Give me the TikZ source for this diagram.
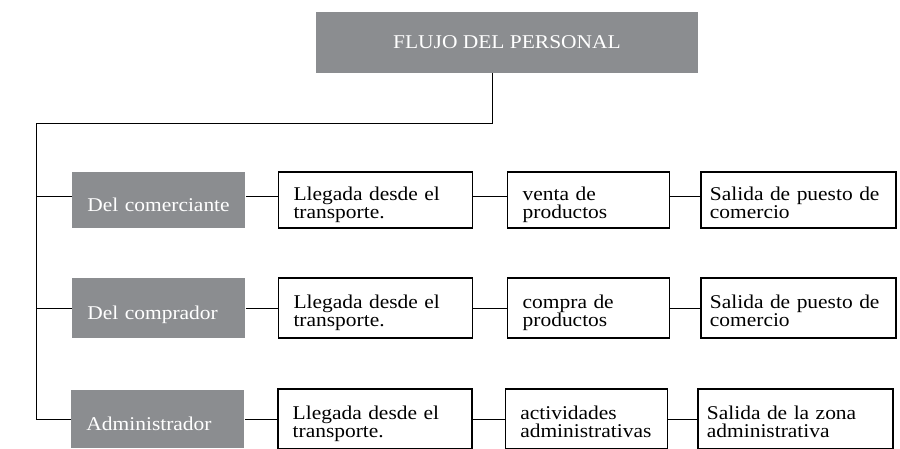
\documentclass[tikz,border=0pt]{standalone}
\usepackage{fontspec}
\setmainfont{Liberation Serif}[FakeStretch=1.1]
\usepackage{tikz}
\usetikzlibrary{positioning}
\definecolor{boxgray}{RGB}{139,141,144}

\begin{document}
\begin{tikzpicture}[x=1pt,y=-1pt,line width=0.9pt,font=\fontsize{19.5}{18}\selectfont]
\tikzstyle{cat}=[fill=boxgray, text=white, align=left, anchor=west, inner xsep=15pt, text width=143pt, text height=22pt, text depth=0pt]
\tikzstyle{stepbox}=[draw, line width=1.2pt, align=left, inner xsep=15pt, text height=22pt, text depth=22pt]
\useasboundingbox (0,0) rectangle (900,448);

\node[fill=boxgray, text=white, minimum width=382pt, minimum height=61pt] (flujo) at (507,42.5) {FLUJO DEL PERSONAL};

% del comerciante
\node[cat, minimum height=56pt] (comerc) at (72,200) {Del comerciante};
\node[stepbox, minimum height=56pt, text width=164pt, right=32pt of comerc] (lleg1) {Llegada desde el\\transporte.};
\node[stepbox, minimum height=56pt, text width=132pt, right=34pt of lleg1] (venta) {venta de\\productos};
\node[stepbox, minimum height=56pt, text width=177pt, inner xsep=9pt, right=30pt of venta] (sal1) {Salida de puesto de\\comercio};

% del comprador
\node[cat, minimum height=60pt] (compr) at (72,308) {Del comprador};
\node[stepbox, minimum height=60pt, text width=164pt, right=32pt of compr] (lleg2) {Llegada desde el\\transporte.};
\node[stepbox, minimum height=60pt, text width=132pt, right=34pt of lleg2] (compra) {compra de\\productos};
\node[stepbox, minimum height=60pt, text width=177pt, inner xsep=9pt, right=30pt of compra] (sal2) {Salida de puesto de\\comercio};

% administrador
\node[cat, minimum height=58pt] (admin) at (71,419) {Administrador};
\node[stepbox, line width=1.6pt, minimum height=60pt, text width=164pt, right=32pt of admin] (lleg3) {Llegada desde el\\transporte.};
\node[stepbox, line width=1.6pt, minimum height=60pt, text width=132pt, right=32pt of lleg3] (activ) {actividades\\administrativas};
\node[stepbox, line width=1.6pt, minimum height=60pt, text width=177pt, inner xsep=9pt, right=29pt of activ] (sal3) {Salida de la zona\\administrativa};

\coordinate (drop) at (492,123);
\coordinate (r1) at (36,196);
\coordinate (r2) at (36,308);
\coordinate (r3) at (36,419);

\draw (drop |- flujo.south) -- (drop) -| (r3) -- (r3 -| admin.west);
\draw (r1) -- (r1 -| comerc.west);
\draw (r2) -- (r2 -| compr.west);

\draw (comerc.east |- r1) -- (lleg1.west |- r1);
\draw (lleg1.east |- r1) -- (venta.west |- r1);
\draw (venta.east |- r1) -- (sal1.west |- r1);
\draw (compr.east) -- (lleg2.west);
\draw (lleg2.east) -- (compra.west);
\draw (compra.east) -- (sal2.west);
\draw (admin.east |- r3) -- (lleg3.west |- r3);
\draw (lleg3.east |- r3) -- (activ.west |- r3);
\draw (activ.east |- r3) -- (sal3.west |- r3);
\end{tikzpicture}
\end{document}
